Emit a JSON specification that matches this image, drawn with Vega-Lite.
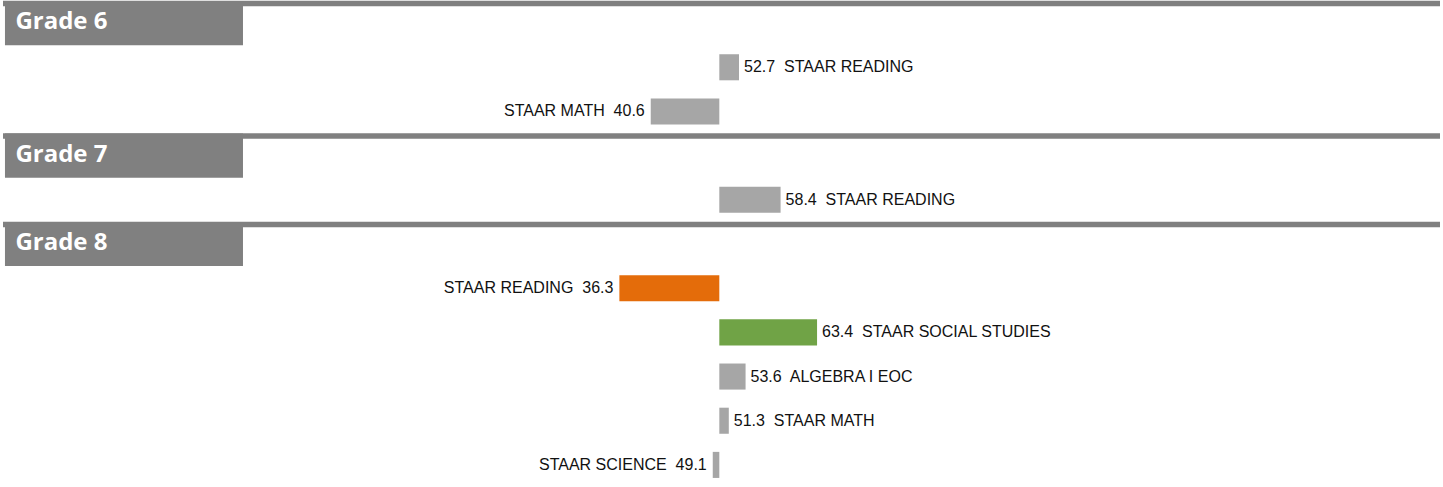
{
  "$schema": "https://vega.github.io/schema/vega-lite/v6.json",
  "width": 1443,
  "height": 487,
  "padding": 0,
  "autosize": {"type": "fit", "contains": "padding"},
  "background": "white",
  "config": {"view": {"stroke": null}},
  "datasets": {
    "headers": [
      {"grade": "Grade 6", "slot": "6h"},
      {"grade": "Grade 7", "slot": "7h"},
      {"grade": "Grade 8", "slot": "8h"}
    ],
    "scores": [
      {"grade": "Grade 6", "slot": "6a", "subject": "STAAR READING", "score": 52.7, "flag": "none"},
      {"grade": "Grade 6", "slot": "6b", "subject": "STAAR MATH", "score": 40.6, "flag": "none"},
      {"grade": "Grade 7", "slot": "7a", "subject": "STAAR READING", "score": 58.4, "flag": "none"},
      {"grade": "Grade 8", "slot": "8a", "subject": "STAAR READING", "score": 36.3, "flag": "low"},
      {"grade": "Grade 8", "slot": "8b", "subject": "STAAR SOCIAL STUDIES", "score": 63.4, "flag": "high"},
      {"grade": "Grade 8", "slot": "8c", "subject": "ALGEBRA I EOC", "score": 53.6, "flag": "none"},
      {"grade": "Grade 8", "slot": "8d", "subject": "STAAR MATH", "score": 51.3, "flag": "none"},
      {"grade": "Grade 8", "slot": "8e", "subject": "STAAR SCIENCE", "score": 49.1, "flag": "none"}
    ]
  },
  "resolve": {"scale": {"x": "shared", "y": "shared"}},
  "layer": [
    {
      "data": {"name": "headers"},
      "mark": {"type": "rule", "color": "#808080", "strokeWidth": 5.5, "yOffset": 2.5},
      "encoding": {
        "y": {"field": "slot", "type": "ordinal", "bandPosition": 0,
          "scale": {"domain": ["6h","6a","6b","7h","7a","8h","8a","8b","8c","8d","8e"], "paddingInner": 0, "paddingOuter": 0},
          "axis": null}
      }
    },
    {
      "data": {"name": "headers"},
      "mark": {"type": "bar", "color": "#808080", "height": {"band": 1}},
      "encoding": {
        "y": {"field": "slot", "type": "ordinal", "axis": null},
        "x": {"datum": -47.93, "type": "quantitative",
          "scale": {"domain": [-48.2, 148.8], "nice": false, "zero": false}, "axis": null},
        "x2": {"datum": -15.3}
      }
    },
    {
      "data": {"name": "headers"},
      "mark": {"type": "text", "color": "white", "font": "Open Sans", "fontWeight": "bold", "fontSize": 24, "align": "left", "baseline": "middle", "dy": -1},
      "encoding": {
        "y": {"field": "slot", "type": "ordinal", "axis": null},
        "x": {"datum": -46.5, "type": "quantitative"},
        "text": {"field": "grade"}
      }
    },
    {
      "data": {"name": "scores"},
      "mark": {"type": "bar", "height": {"band": 0.59}},
      "encoding": {
        "y": {"field": "slot", "type": "ordinal", "axis": null},
        "x": {"field": "score", "type": "quantitative"},
        "x2": {"datum": 50},
        "color": {"field": "flag", "type": "nominal",
          "scale": {"domain": ["none", "low", "high"], "range": ["#A6A6A6", "#E46C0A", "#70A346"]},
          "legend": null}
      }
    },
    {
      "data": {"name": "scores"},
      "transform": [
        {"filter": "datum.score > 50"},
        {"calculate": "format(datum.score, '.1f') + '\u00a0 ' + datum.subject", "as": "label"}
      ],
      "mark": {"type": "text", "font": "Liberation Sans", "fontSize": 16, "color": "#111111", "align": "left", "baseline": "middle", "dx": 5},
      "encoding": {
        "y": {"field": "slot", "type": "ordinal", "axis": null},
        "x": {"field": "score", "type": "quantitative"},
        "text": {"field": "label"}
      }
    },
    {
      "data": {"name": "scores"},
      "transform": [
        {"filter": "datum.score < 50"},
        {"calculate": "datum.subject + '\u00a0 ' + format(datum.score, '.1f')", "as": "label"}
      ],
      "mark": {"type": "text", "font": "Liberation Sans", "fontSize": 16, "color": "#111111", "align": "right", "baseline": "middle", "dx": -6},
      "encoding": {
        "y": {"field": "slot", "type": "ordinal", "axis": null},
        "x": {"field": "score", "type": "quantitative"},
        "text": {"field": "label"}
      }
    },
    {
      "mark": {"type": "rule", "color": "#404040", "strokeWidth": 1.2},
      "encoding": {
        "x": {"datum": 50, "type": "quantitative"}
      }
    }
  ]
}
